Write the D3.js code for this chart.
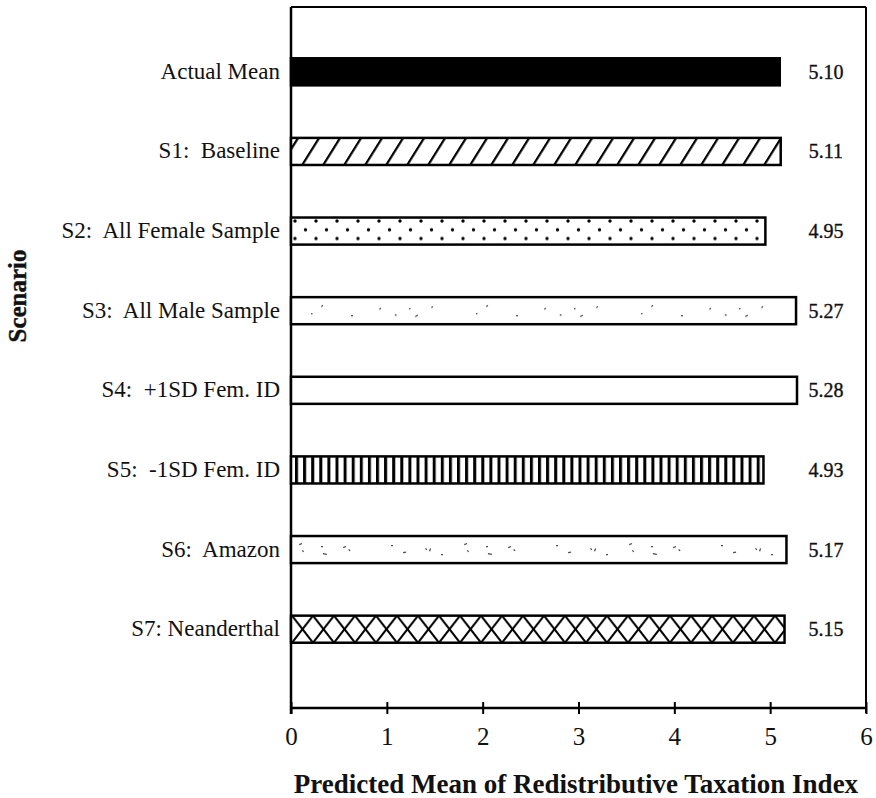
<!DOCTYPE html>
<html><head><meta charset="utf-8">
<script src="https://cdn.jsdelivr.net/npm/d3@7"></script>
<style>body{margin:0;background:#fff}svg{display:block}text{font-family:"Liberation Serif","DejaVu Serif",serif;fill:#111}</style>
</head><body><svg id="c" width="876" height="798"></svg>
<script>
const categories = ["Actual Mean","S1:  Baseline","S2:  All Female Sample","S3:  All Male Sample","S4:  +1SD Fem. ID","S5:  -1SD Fem. ID","S6:  Amazon","S7: Neanderthal"];
const values = [5.10, 5.11, 4.95, 5.27, 5.28, 4.93, 5.17, 5.15];
const valueLabels = ["5.10","5.11","4.95","5.27","5.28","4.93","5.17","5.15"];
const xTicks = [0,1,2,3,4,5,6];

const fills = ["solid","diag","dots","specks","none","vert","specks2","cross"];

const svg = d3.select("#c");
const L = 291, R = 866, T = 7, B = 708;
const x = d3.scaleLinear().domain([0,6]).range([L,R]);
const y = d3.scaleBand().domain(categories).range([32, 669]).paddingInner(0.66).paddingOuter(0.33);

const defs = svg.append("defs");
// diagonal
let p = defs.append("pattern").attr("id","diag").attr("patternUnits","userSpaceOnUse").attr("width",21).attr("height",30).attr("x",L+8).attr("patternTransform","skewX(-32)");
p.append("rect").attr("width",21).attr("height",30).attr("fill","#fff");
p.append("rect").attr("x",0).attr("y",0).attr("width",2.6).attr("height",30).attr("fill","#000");
// dots
const dy0 = y(categories[2]) + 3.5;
p = defs.append("pattern").attr("id","dots").attr("patternUnits","userSpaceOnUse").attr("width",21).attr("height",17.5).attr("x",L+4).attr("y",dy0);
p.append("rect").attr("width",21).attr("height",17.5).attr("fill","#fff");
[[0,0],[21,0],[0,17.5],[21,17.5],[10.5,8.75]].forEach(c=>p.append("circle").attr("cx",c[0]).attr("cy",c[1]).attr("r",1.7).attr("fill","#000"));
// vertical lines
p = defs.append("pattern").attr("id","vert").attr("patternUnits","userSpaceOnUse").attr("width",8.1).attr("height",10).attr("x",L+4);
p.append("rect").attr("width",8.1).attr("height",10).attr("fill","#fff");
p.append("rect").attr("x",0).attr("width",3).attr("height",10).attr("fill","#000");
// cross
const cy0 = y(categories[7]);
p = defs.append("pattern").attr("id","cross").attr("patternUnits","userSpaceOnUse").attr("width",21).attr("height",y.bandwidth()).attr("x",L+1).attr("y",cy0);
p.append("rect").attr("width",21).attr("height",y.bandwidth()).attr("fill","#fff");
p.append("path").attr("d",`M0,0L21,${y.bandwidth()}M21,0L0,${y.bandwidth()}`).attr("stroke","#000").attr("stroke-width",2);
// specks
function specks(id, rowY, pts){
  const q = defs.append("pattern").attr("id",id).attr("patternUnits","userSpaceOnUse").attr("width",165).attr("height",30).attr("x",L).attr("y",rowY);
  q.append("rect").attr("width",165).attr("height",30).attr("fill","#fff");
  pts.forEach(s=>q.append("rect").attr("x",s[0]).attr("y",s[1]).attr("width",s[2]).attr("height",1.2).attr("fill","#444").attr("transform",`rotate(${s[3]},${s[0]},${s[1]})`));
}
specks("specks", y(categories[3]), [[30,9,2,-40],[60,18,2,0],[88,12,2,-50],[104,17,2,20],[118,11,1.5,0],[124,19,3,-30],[20,16,1.5,0],[140,10,2,-30]]);
specks("specks2", y(categories[6]), [[8,8,3,-20],[12,14,2,60],[30,10,2,0],[32,17,4,10],[52,11,3,-20],[58,13,2,40],[100,9,2,0],[112,16,3,-10],[135,12,2,50],[138,15,3,-70],[150,18,2,0]]);

// frame
svg.append("line").attr("x1",L).attr("x2",R).attr("y1",T).attr("y2",T).attr("stroke","#000").attr("stroke-width",2);
svg.append("line").attr("x1",R).attr("x2",R).attr("y1",T).attr("y2",B+5).attr("stroke","#000").attr("stroke-width",2);
svg.append("line").attr("x1",L).attr("x2",L).attr("y1",T).attr("y2",B+6).attr("stroke","#000").attr("stroke-width",2.5);

// bars
svg.selectAll("rect.bar").data(categories).join("rect").attr("class","bar")
  .attr("x",x(0)).attr("y",d=>y(d)).attr("height",y.bandwidth())
  .attr("width",(d,i)=>x(values[i])-x(0))
  .attr("fill",(d,i)=>fills[i]==="solid"?"#000":fills[i]==="none"?"#fff":`url(#${fills[i]})`)
  .attr("stroke","#000").attr("stroke-width",2.5);

// value labels
svg.selectAll("text.val").data(categories).join("text").attr("class","val")
  .attr("x",826).attr("y",d=>y(d)+y.bandwidth()/2+7).attr("text-anchor","middle")
  .attr("font-size",20).attr("stroke","#111").attr("stroke-width",0.35).text((d,i)=>valueLabels[i]);

// category labels
svg.selectAll("text.cat").data(categories).join("text").attr("class","cat")
  .attr("x",280).attr("y",d=>y(d)+y.bandwidth()/2+7).attr("text-anchor","end")
  .attr("font-size",23).style("white-space","pre").text(d=>d);

// x axis
const ax = svg.append("g").attr("transform",`translate(0,${B})`)
  .call(d3.axisBottom(x).tickValues(xTicks).tickSize(6).tickPadding(31).tickFormat(d3.format("d")));
ax.select(".domain").attr("stroke","#000").attr("stroke-width",2.5).attr("d",`M${L},0H${R}`);
ax.selectAll(".tick line").attr("stroke","#000").attr("stroke-width",2).attr("y1",-6).attr("y2",6);
ax.selectAll(".tick text").attr("font-size",25).attr("dy","0").attr("font-family","Liberation Serif, serif").attr("fill","#111");

svg.append("text").attr("x",576).attr("y",793).attr("text-anchor","middle").attr("font-size",27).attr("font-weight","bold").text("Predicted Mean of Redistributive Taxation Index");
svg.append("text").attr("transform","translate(26,296) rotate(-90)").attr("text-anchor","middle").attr("font-size",25).attr("font-weight","bold").attr("stroke","#111").attr("stroke-width",0.4).text("Scenario");
</script></body></html>
